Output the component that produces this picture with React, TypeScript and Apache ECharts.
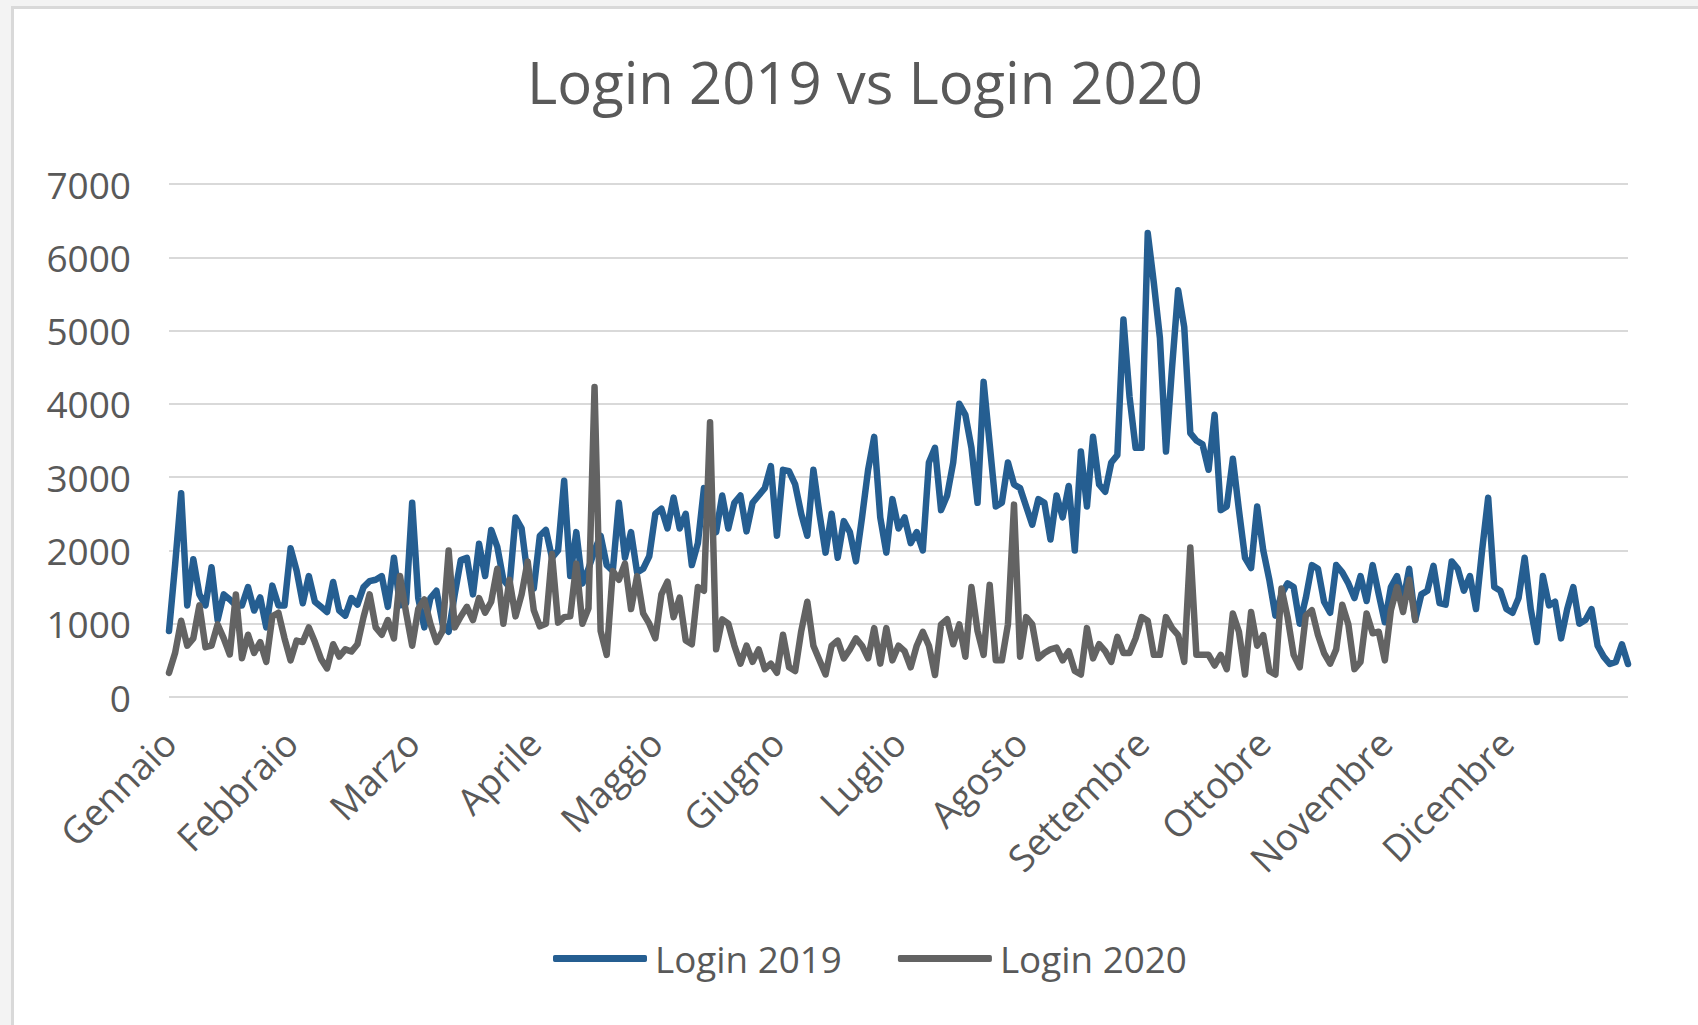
import React, { useEffect, useRef } from "react";
import * as echarts from "echarts";

const months = ["Gennaio", "Febbraio", "Marzo", "Aprile", "Maggio", "Giugno", "Luglio", "Agosto", "Settembre", "Ottobre", "Novembre", "Dicembre"];
const slotsPerMonth = 20;
const yTicks = [0, 1000, 2000, 3000, 4000, 5000, 6000, 7000];

const login2019 = [
  900, 1800, 2780, 1250, 1880, 1400, 1250, 1770, 1050, 1400,
  1330, 1250, 1250, 1500, 1180, 1360, 950, 1520, 1250, 1250,
  2030, 1720, 1280, 1650, 1300, 1230, 1160, 1570, 1180, 1110,
  1350, 1260, 1500, 1580, 1600, 1650, 1230, 1900, 1250, 1280,
  2650, 1350, 950, 1350, 1450, 1000, 890, 1400, 1870, 1900,
  1400, 2090, 1650, 2280, 2050, 1600, 1500, 2450, 2300, 1650,
  1480, 2200, 2280, 1900, 2000, 2950, 1650, 2250, 1550, 1750,
  2000, 2200, 1800, 1720, 2650, 1900, 2250, 1700, 1750, 1920,
  2500, 2570, 2300, 2720, 2300, 2500, 1800, 2100, 2850, 2500,
  2250, 2750, 2300, 2650, 2750, 2260, 2650, 2750, 2850, 3150,
  2200, 3100, 3080, 2900, 2500, 2200, 3100, 2500, 1970, 2500,
  1900, 2400, 2250, 1850, 2450, 3100, 3550, 2450, 1970, 2700,
  2300, 2450, 2100, 2250, 2000, 3200, 3400, 2550, 2750, 3200,
  4000, 3850, 3400, 2650, 4300, 3450, 2600, 2650, 3200, 2900,
  2850, 2600, 2350, 2700, 2650, 2150, 2750, 2450, 2880, 2000,
  3350, 2600, 3550, 2900, 2800, 3200, 3300, 5150, 4100, 3400,
  3400, 6330, 5650, 4900, 3350, 4500, 5550, 5050, 3600, 3500,
  3450, 3100, 3850, 2550, 2600, 3250, 2550, 1900, 1760, 2600,
  2000, 1600, 1110, 1400, 1550, 1500, 1000, 1350, 1800, 1750,
  1300, 1150, 1800, 1700, 1550, 1350, 1650, 1310, 1800, 1400,
  1020, 1500, 1650, 1300, 1750, 1050, 1400, 1450, 1790, 1280,
  1260, 1850, 1750, 1450, 1650, 1200, 2000, 2720, 1500, 1450,
  1200, 1150, 1350, 1900, 1200, 750, 1650, 1250, 1300, 800,
  1200, 1500, 1000, 1050, 1200, 700, 550, 450, 480, 720,
  450,
];

const login2020 = [
  330, 600, 1040, 700, 800, 1250, 680, 700, 990, 800,
  580, 1400, 530, 850, 600, 750, 480, 1100, 1150, 800,
  500, 770, 750, 950, 750, 520, 390, 720, 550, 650,
  620, 720, 1090, 1400, 950, 850, 1050, 800, 1650, 1150,
  700, 1200, 1330, 1000, 750, 900, 2000, 950, 1100, 1230,
  1050, 1350, 1150, 1300, 1750, 1000, 1600, 1100, 1400, 1850,
  1185, 965, 1000, 1950, 1015, 1090, 1100, 1820, 1000, 1210,
  4230, 900, 575, 1720, 1600, 1820, 1200, 1650, 1140, 1000,
  800, 1400, 1575, 1090, 1355, 770, 720, 1500, 1450, 3750,
  650, 1060, 1000, 700, 455, 700, 480, 650, 380, 455,
  330, 850, 405, 355, 900, 1300, 700, 500, 307, 700,
  770, 527, 650, 800, 700, 527, 940, 455, 940, 500,
  700, 625, 405, 700, 890, 700, 300, 990, 1060, 720,
  990, 550, 1500, 900, 575, 1530, 500, 500, 990, 2625,
  550, 1090, 990, 527, 600, 650, 675, 500, 625, 355,
  307, 940, 527, 720, 625, 480, 820, 600, 600, 800,
  1090, 1040, 575, 575, 1090, 940, 845, 480, 2040, 575,
  575, 575, 430, 575, 380, 1140, 890, 307, 1160, 700,
  845, 355, 307, 1480, 1090, 575, 405, 1110, 1185, 845,
  600, 455, 650, 1260, 990, 380, 480, 1140, 870, 890,
  500, 1185, 1500, 1160, 1600, 1050,
];

const categories: string[] = [];
months.forEach((m) => {
  for (let d = 1; d <= slotsPerMonth; d++) categories.push(`${m} ${d}`);
});
categories.push("Fine");

const FONT = "'Open Sans', sans-serif";
const TEXT = "#595959";

export default function App() {
  const ref = useRef<HTMLDivElement>(null);
  useEffect(() => {
    if (!ref.current) return;
    const chart = echarts.init(ref.current, null, { renderer: "svg" });
    chart.setOption({
      animation: false,
      backgroundColor: "transparent",
      textStyle: { fontFamily: FONT },
      title: {
        text: "Login 2019 vs Login 2020",
        left: 860,
        textAlign: "center",
        top: 47,
        textStyle: { fontFamily: FONT, fontSize: 58, fontWeight: "normal", color: TEXT },
      },
      legend: {
        left: 548,
        top: 935,
        itemWidth: 94,
        itemHeight: 7,
        itemGap: 56,
        icon: "roundRect",
        textStyle: { fontFamily: FONT, fontSize: 36.8, color: TEXT, padding: [0, 0, 0, 3] },
        data: ["Login 2019", "Login 2020"],
      },
      grid: { left: 169, right: 70, top: 184, bottom: 328, containLabel: false },
      xAxis: {
        type: "category",
        data: categories,
        boundaryGap: false,
        axisLine: { show: false },
        axisTick: { show: false },
        splitLine: { show: false },
        axisLabel: {
          interval: slotsPerMonth - 1,
          rotate: 45,
          margin: 39,
          padding: [42, 0, 0, 0],
          fontFamily: FONT,
          fontSize: 37,
          color: TEXT,
          formatter: (_v: string, idx: number) =>
            idx % slotsPerMonth === 0 && idx / slotsPerMonth < months.length ? months[idx / slotsPerMonth] : "",
        },
      },
      yAxis: {
        type: "value",
        min: yTicks[0],
        max: yTicks[yTicks.length - 1],
        interval: 1000,
        axisLine: { show: false },
        axisTick: { show: false },
        splitLine: { lineStyle: { color: "#d9d9d9", width: 2 } },
        axisLabel: {
          margin: 38,
          fontFamily: FONT,
          fontSize: 37,
          color: TEXT,
          formatter: (v: number) => String(v),
        },
      },
      series: [
        {
          name: "Login 2019",
          type: "line",
          data: login2019,
          showSymbol: false,
          symbol: "none",
          color: "#255e91",
          lineStyle: { width: 6.5, color: "#255e91", join: "round", cap: "round" },
        },
        {
          name: "Login 2020",
          type: "line",
          data: login2020,
          showSymbol: false,
          symbol: "none",
          color: "#636363",
          lineStyle: { width: 6.5, color: "#636363", join: "round", cap: "round" },
        },
      ],
    });
    return () => chart.dispose();
  }, []);

  return (
    <div style={{ position: "fixed", left: 0, top: 0, width: 1698, height: 1025, background: "#f3f3f3", overflow: "hidden" }}>
      <div
        style={{
          position: "absolute",
          left: 11,
          top: 6,
          right: 0,
          bottom: 0,
          background: "#ffffff",
          borderLeft: "3px solid #d9d9d9",
          borderTop: "3px solid #d9d9d9",
        }}
      />
      <div ref={ref} style={{ position: "absolute", left: 0, top: 0, width: 1698, height: 1025 }} />
    </div>
  );
}
